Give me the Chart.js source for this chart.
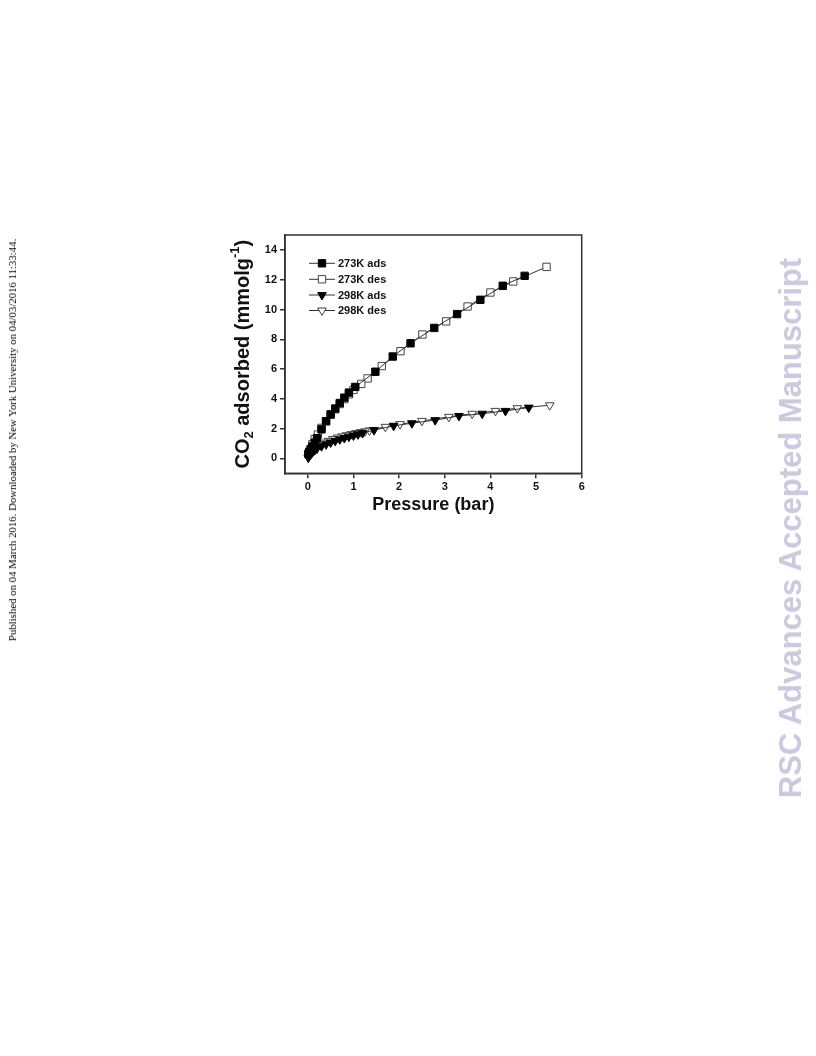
<!DOCTYPE html>
<html><head><meta charset="utf-8">
<script src="https://cdn.jsdelivr.net/npm/chart.js@4.4.1/dist/chart.umd.min.js"></script>
<style>
html,body{margin:0;padding:0;background:#fff;width:816px;height:1056px;overflow:hidden;position:relative;}
#wrap{position:absolute;left:0;top:0;width:816px;height:1056px;}
.side{position:absolute;white-space:nowrap;transform-origin:center center;}
#pub{left:12px;top:440px;font-family:"Liberation Serif","Times New Roman",serif;font-weight:normal;font-size:10.8px;color:#000;transform:translate(-50%,-50%) rotate(-90deg);}
#rsc{left:791px;top:528px;font-family:"Liberation Sans",Arial,sans-serif;font-weight:bold;font-size:31px;color:#c9c9df;transform:translate(-50%,-50%) rotate(-90deg);}
</style></head>
<body>
<div id="wrap"><canvas id="c" width="816" height="1056"></canvas></div>
<div id="pub" class="side">Published on 04 March 2016. Downloaded by New York University on 04/03/2016 11:33:44.</div>
<div id="rsc" class="side">RSC Advances Accepted Manuscript</div>
<script>
// ---- data ----
const seriesNames = ["273K ads", "273K des", "298K ads", "298K des"];
const p273ads = [0.01,0.03,0.06,0.1,0.15,0.2,0.3,0.4,0.5,0.6,0.7,0.8,0.9,1.04,1.48,1.86,2.25,2.77,3.27,3.78,4.27,4.75];
const q273ads = [0.3,0.45,0.62,0.8,1.05,1.35,1.95,2.5,2.95,3.35,3.72,4.08,4.42,4.8,5.82,6.84,7.73,8.76,9.69,10.65,11.59,12.26];
const p273des = [5.23,4.5,4.0,3.5,3.03,2.51,2.03,1.62,1.31,1.17,1.0,0.9,0.8,0.7,0.6,0.5,0.4,0.3,0.22,0.15,0.1];
const q273des = [12.86,11.88,11.14,10.2,9.2,8.32,7.2,6.2,5.37,5.0,4.6,4.3,3.98,3.65,3.3,2.95,2.5,2.05,1.6,1.3,0.95];
const p298ads = [0.01,0.03,0.06,0.1,0.15,0.2,0.3,0.4,0.5,0.6,0.7,0.8,0.9,1.0,1.1,1.2,1.45,1.88,2.28,2.79,3.31,3.82,4.33,4.84];
const q298ads = [0.05,0.15,0.28,0.42,0.55,0.66,0.82,0.95,1.07,1.18,1.28,1.37,1.46,1.54,1.62,1.7,1.9,2.19,2.36,2.57,2.85,3.0,3.19,3.41];
const p298des = [5.3,4.59,4.11,3.6,3.09,2.5,2.02,1.7,1.35,1.25,1.15,1.05,0.95,0.85,0.75,0.65,0.55,0.45,0.35,0.25,0.15,0.08];
const q298des = [3.57,3.37,3.19,3.0,2.79,2.52,2.3,2.12,1.88,1.82,1.76,1.7,1.63,1.56,1.48,1.4,1.3,1.18,1.06,0.92,0.72,0.5];
const xTicks = [0,1,2,3,4,5,6];
const yTicks = [0,2,4,6,8,10,12,14];
const xTitle = "Pressure (bar)";

const pts = (xs, ys) => xs.map((x, i) => ({x: x, y: ys[i]}));
const FONT = '"Liberation Sans", Arial, sans-serif';

const mk = (label, data, style, filled, rot, r) => ({
  label, data: data, showLine: true, borderColor: '#333', borderWidth: 1,
  pointStyle: style, pointRotation: rot, pointRadius: r, pointHoverRadius: r,
  pointBackgroundColor: filled ? '#000' : '#fff', pointBorderColor: filled ? '#000' : '#444',
  pointBorderWidth: 1, tension: 0
});

const datasets = [
  mk(seriesNames[0], pts(p273ads, q273ads), 'rect', true, 0, 5.2),
  mk(seriesNames[1], pts(p273des, q273des), 'rect', false, 0, 5.2),
  mk(seriesNames[2], pts(p298ads, q298ads), 'triangle', true, 180, 5),
  mk(seriesNames[3], pts(p298des, q298des), 'triangle', false, 180, 5)
];

const framePlugin = {
  id: 'frame',
  afterDatasetsDraw(chart) {
    const {ctx, chartArea: a} = chart;
    ctx.save();
    ctx.strokeStyle = '#333'; ctx.lineWidth = 1.5;
    ctx.strokeRect(a.left, a.top, a.right - a.left, a.bottom - a.top);
    // legend
    ctx.font = 'bold 11px ' + FONT;
    ctx.textBaseline = 'middle'; ctx.textAlign = 'left';
    const rows = [28.3, 44.3, 60, 75.5];
    chart.data.datasets.forEach((ds, i) => {
      const y = a.top + rows[i];
      const x0 = a.left + 24, x1 = a.left + 50, xm = a.left + 37;
      ctx.strokeStyle = '#333'; ctx.lineWidth = 1;
      ctx.beginPath(); ctx.moveTo(x0, y); ctx.lineTo(x1, y); ctx.stroke();
      ctx.fillStyle = ds.pointBackgroundColor; ctx.strokeStyle = ds.pointBorderColor;
      Chart.helpers.drawPoint(ctx, {pointStyle: ds.pointStyle, rotation: ds.pointRotation, radius: ds.pointRadius, borderWidth: 1}, xm, y);
      ctx.fillStyle = '#111';
      ctx.fillText(ds.label, a.left + 53, y + 0.5);
    });
    // x title
    ctx.font = 'bold 18px ' + FONT; ctx.textAlign = 'center'; ctx.fillStyle = '#111';
    ctx.fillText(xTitle, (a.left + a.right) / 2, 505);
    // y title with sub/superscript
    const parts = [
      {t: 'CO', s: 20, dy: 0}, {t: '2', s: 13, dy: 6}, {t: ' adsorbed (mmolg', s: 20, dy: 0},
      {t: '-1', s: 13, dy: -8}, {t: ')', s: 20, dy: 0}
    ];
    let total = 0;
    parts.forEach(p => { ctx.font = 'bold ' + p.s + 'px ' + FONT; p.w = ctx.measureText(p.t).width; total += p.w; });
    ctx.translate(243, (a.top + a.bottom) / 2);
    ctx.rotate(-Math.PI / 2);
    ctx.textAlign = 'left';
    let x = -total / 2;
    parts.forEach(p => { ctx.font = 'bold ' + p.s + 'px ' + FONT; ctx.fillText(p.t, x, p.dy); x += p.w; });
    ctx.restore();
  }
};

new Chart(document.getElementById('c'), {
  type: 'scatter',
  data: {datasets},
  options: {
    responsive: false, animation: false, devicePixelRatio: 1,
    layout: {padding: {left: 235, right: 234.3, top: 235, bottom: 552.7}},
    plugins: {legend: {display: false}, tooltip: {enabled: false}},
    scales: {
      x: {
        type: 'linear', min: -0.5, max: 6,
        afterBuildTicks: s => { s.ticks = xTicks.map(v => ({value: v})); },
        afterFit: s => { s.height = 30; },
        grid: {display: true, drawOnChartArea: false, drawTicks: true, tickLength: 5, color: '#333', lineWidth: 1.5},
        border: {display: true, color: '#333', width: 1.5},
        ticks: {font: {family: FONT, size: 11, weight: 'bold'}, color: '#111', padding: 2, maxRotation: 0}
      },
      y: {
        type: 'linear', min: -1, max: 15,
        afterBuildTicks: s => { s.ticks = yTicks.map(v => ({value: v})); },
        afterFit: s => { s.width = 50; },
        grid: {display: true, drawOnChartArea: false, drawTicks: true, tickLength: 5, color: '#333', lineWidth: 1.5},
        border: {display: true, color: '#333', width: 1.5},
        ticks: {font: {family: FONT, size: 11, weight: 'bold'}, color: '#111', padding: 3}
      }
    }
  },
  plugins: [framePlugin]
});
</script>
</body></html>
